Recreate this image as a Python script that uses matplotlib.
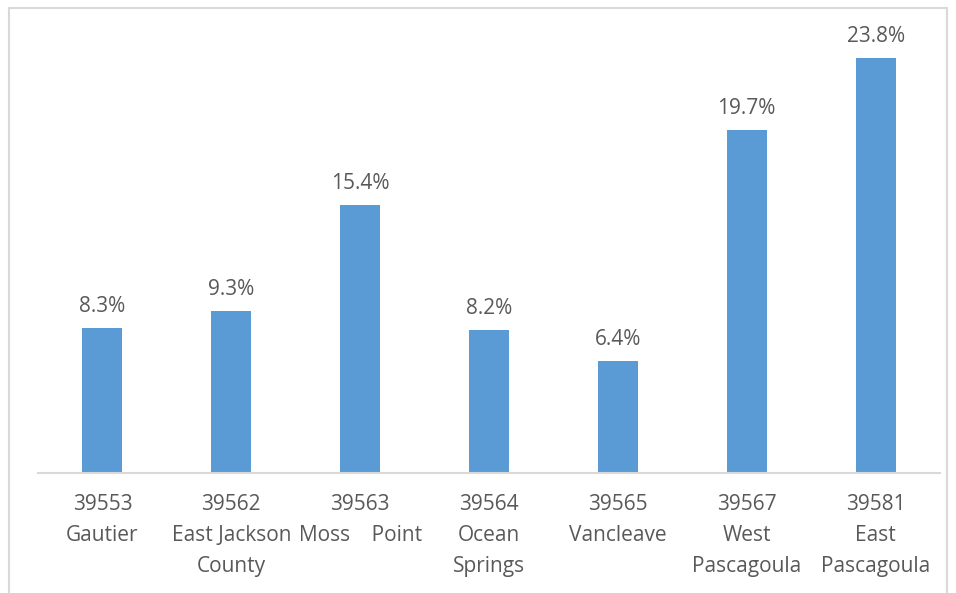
import matplotlib.pyplot as plt
import matplotlib.patches as patches

# data
zips = ['39553', '39562', '39563', '39564', '39565', '39567', '39581']
places = ['Gautier', 'East Jackson\nCounty', 'Moss    Point', 'Ocean\nSprings',
          'Vancleave', 'West\nPascagoula', 'East\nPascagoula']
values = [8.3, 9.3, 15.4, 8.2, 6.4, 19.7, 23.8]

plt.rcParams['font.family'] = ['Open Sans', 'DejaVu Sans']
text_color = '#595959'

fig = plt.figure(figsize=(9.56, 5.93), dpi=100)
ax = fig.add_axes([38 / 956, 1 - 473 / 593, (940 - 38) / 956, (473 - 20) / 593])

x = range(len(values))
bars = ax.bar(x, values, width=0.31, color='#5B9BD5', zorder=2)

for b, v in zip(bars, values):
    ax.annotate(f'{v:.1f}%', (b.get_x() + b.get_width() / 2, v),
                xytext=(0, 8), textcoords='offset points',
                ha='center', va='bottom', fontsize=15, color=text_color)

ax.set_xticks(list(x))
ax.set_xticklabels([f'{z}\n{p}' for z, p in zip(zips, places)],
                   fontsize=15, color=text_color, linespacing=1.62, va='top')
ax.tick_params(axis='x', length=0, pad=15)
ax.set_yticks([])
ax.set_xlim(-0.5, len(values) - 0.5)
ax.set_ylim(0, 26)

for s in ['top', 'right', 'left']:
    ax.spines[s].set_visible(False)
ax.spines['bottom'].set_color('#D9D9D9')
ax.spines['bottom'].set_linewidth(1.5)

# chart border
fig.patches.append(patches.Rectangle((8.5 / 956, -0.05), (947 - 8.5) / 956, 1.05 - 7.5 / 593,
                                     transform=fig.transFigure, fill=False,
                                     edgecolor='#D9D9D9', linewidth=1.5))

fig.savefig('out.png', dpi=100)
